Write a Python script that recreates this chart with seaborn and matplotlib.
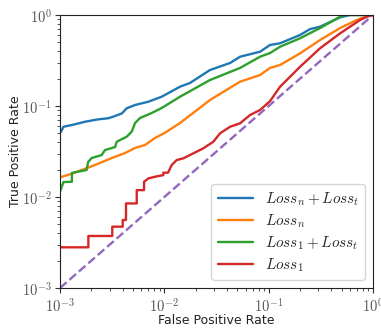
import numpy as np
import pandas as pd
import matplotlib
matplotlib.use('Agg')
import matplotlib.pyplot as plt
import seaborn as sns
from matplotlib.ticker import LogLocator, FuncFormatter, NullFormatter

# ROC points (FPR, TPR)
fpr_nt = [0.001, 0.00102, 0.00108, 0.00130, 0.00174, 0.00233, 0.00290, 0.00324, 0.00393,
          0.00436, 0.00524, 0.00703, 0.00944, 0.01414, 0.0176, 0.0274, 0.0427, 0.0532,
          0.0827, 0.103, 0.1286, 0.2, 0.249, 0.311, 0.484, 0.603, 1.0]
tpr_nt = [0.0518, 0.0518, 0.0592, 0.0618, 0.0672, 0.0714, 0.0733, 0.0763, 0.0831,
          0.0944, 0.1026, 0.1115, 0.1265, 0.163, 0.179, 0.2486, 0.297, 0.348,
          0.395, 0.468, 0.489, 0.603, 0.70, 0.744, 0.943, 1.0, 1.0]

fpr_n = [0.001, 0.00119, 0.00162, 0.00217, 0.00313, 0.00420, 0.00524, 0.00653, 0.00814,
         0.01016, 0.01414, 0.0274, 0.0532, 0.0827, 0.103, 0.1286, 0.2, 0.311, 0.484,
         0.70, 0.87, 1.0]
tpr_n = [0.01646, 0.01745, 0.0198, 0.0225, 0.0268, 0.0304, 0.0346, 0.0373, 0.0445,
         0.0509, 0.065, 0.1164, 0.185, 0.219, 0.262, 0.282, 0.379, 0.531, 0.719,
         0.881, 0.97, 1.0]

fpr_1t = [0.001, 0.00108, 0.00130, 0.00130, 0.00180, 0.00186, 0.00201, 0.00251, 0.00270,
          0.00337, 0.00350, 0.00436, 0.00487, 0.00524, 0.00585, 0.00757, 0.00944, 0.01414,
          0.0274, 0.0532, 0.0827, 0.103, 0.1286, 0.2, 0.311, 0.484, 0.54, 1.0]
tpr_1t = [0.0115, 0.0146, 0.0147, 0.0184, 0.0198, 0.0242, 0.0268, 0.0289, 0.0328,
          0.0354, 0.0405, 0.0460, 0.0522, 0.065, 0.0738, 0.0838, 0.0951, 0.1265,
          0.193, 0.262, 0.348, 0.382, 0.448, 0.555, 0.719, 0.958, 1.0, 1.0]

fpr_1 = [0.001, 0.00187, 0.00187, 0.00317, 0.00317, 0.00399, 0.00399, 0.00429, 0.00429,
         0.00544, 0.00544, 0.00639, 0.00639, 0.00703, 0.00814, 0.00978, 0.00978, 0.01085,
         0.01178, 0.01315, 0.0152, 0.01897, 0.02365, 0.0295, 0.0342, 0.0427, 0.0532,
         0.0663, 0.0827, 0.103, 0.1286, 0.2, 0.311, 0.484, 0.752, 0.878, 1.0]
tpr_1 = [0.0028, 0.0028, 0.00373, 0.00373, 0.00472, 0.00472, 0.00559, 0.00559, 0.0085,
         0.0085, 0.0119, 0.0119, 0.0147, 0.0160, 0.0167, 0.0174, 0.0185, 0.0185,
         0.0225, 0.0255, 0.0266, 0.0302, 0.0343, 0.0405, 0.0501, 0.0592, 0.0645,
         0.0796, 0.0904, 0.113, 0.163, 0.27, 0.431, 0.629, 0.881, 0.96, 1.0]

labels = [r'$Loss_n + Loss_t$', r'$Loss_n$', r'$Loss_1 + Loss_t$', r'$Loss_1$']
curves = [(fpr_nt, tpr_nt), (fpr_n, tpr_n), (fpr_1t, tpr_1t), (fpr_1, tpr_1)]

rows = []
for lab, (xs, ys) in zip(labels, curves):
    for a, b in zip(xs, ys):
        rows.append({'model': lab, 'fpr': a, 'tpr': b})
df = pd.DataFrame(rows)

sns.set_style('ticks')
plt.rcParams['mathtext.fontset'] = 'cm'
plt.rcParams['font.family'] = ['DejaVu Sans']

fig = plt.figure(figsize=(3.81, 3.28), dpi=100)
ax = fig.add_axes([60 / 381, 1 - 288 / 328, 313 / 381, 273 / 328])

palette = ['#1f77b4', '#ff7f0e', '#2ca02c', '#d62728']
sns.lineplot(data=df, x='fpr', y='tpr', hue='model', hue_order=labels, palette=palette,
             estimator=None, sort=False, units='model', linewidth=1.7, ax=ax)
ax.plot([1e-3, 1], [1e-3, 1], '--', color='#9467bd', linewidth=1.7)

ax.set_xscale('log')
ax.set_yscale('log')
ax.set_xlim(1e-3, 1)
ax.set_ylim(1e-3, 1)

fmt = FuncFormatter(lambda v, p: r'$10^{%d}$' % int(round(np.log10(v))))
for axis in (ax.xaxis, ax.yaxis):
    axis.set_major_locator(LogLocator(base=10, numticks=10))
    axis.set_major_formatter(fmt)
    axis.set_minor_locator(LogLocator(base=10, subs=np.arange(2, 10), numticks=10))
    axis.set_minor_formatter(NullFormatter())
ax.tick_params(which='major', labelsize=10.5, labelcolor='#555555', color='#333333',
               length=3.5, pad=2.5)
ax.tick_params(which='minor', color='#333333', length=2)
for s in ax.spines.values():
    s.set_color('#222222')

ax.set_xlabel('False Positive Rate', fontsize=9, color='#222222', labelpad=0)
ax.set_ylabel('True Positive Rate', fontsize=9, color='#222222', labelpad=0)

leg = ax.get_legend()
handles = leg.legend_handles
ax.legend(handles, labels, loc='lower right', fontsize=11, handlelength=2.3,
          labelspacing=0.3, title=None)

fig.savefig('out.png', dpi=100)
